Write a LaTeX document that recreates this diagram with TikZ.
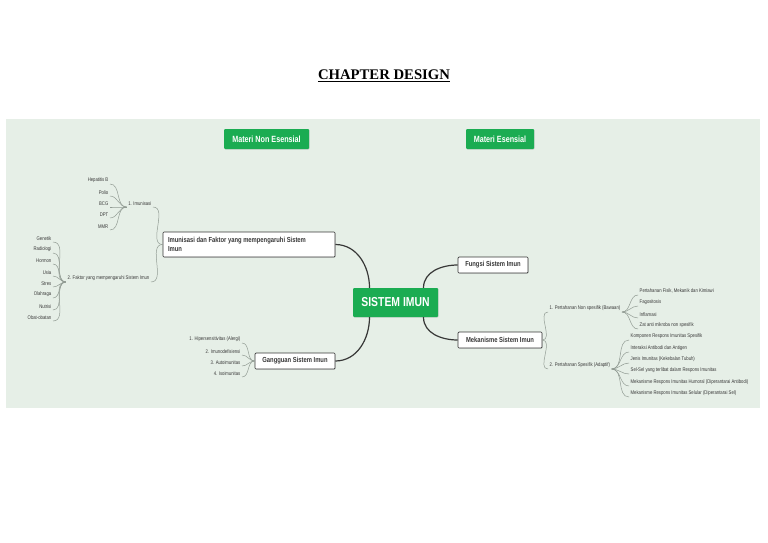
\documentclass[tikz,border=0pt]{standalone}
\usepackage{fontspec}
\setmainfont{Liberation Serif}
\newfontfamily\nar[FakeStretch=0.8]{Liberation Sans}
\usetikzlibrary{shadows}
\definecolor{panel}{RGB}{230,239,231}
\definecolor{xgreen}{RGB}{27,172,82}
\definecolor{lg}{RGB}{145,155,147}
\definecolor{dk}{RGB}{55,55,55}
\begin{document}
\begin{tikzpicture}[x=1pt,y=1pt,
  greenbox/.style={fill=xgreen, text=white, rounded corners=1pt, inner sep=0pt,
    drop shadow={shadow xshift=.6pt,shadow yshift=-.6pt,opacity=.25}},
  topic/.style={draw=dk, fill=white, line width=0.7pt, rounded corners=1pt,
    font=\nar\bfseries\fontsize{7.3}{8.3}\selectfont, text=dk, inner sep=0pt,
    drop shadow={shadow xshift=.6pt,shadow yshift=-.6pt,opacity=.25}},
  leafL/.style={font=\nar\fontsize{5.3}{6.3}\selectfont, text=dk, inner xsep=1.5pt, inner ysep=1.2pt,
    anchor=south east,
    append after command={[draw=lg, line width=0.5pt] (\tikzlastnode.south west) -- (\tikzlastnode.south east)}},
  leafR/.style={font=\nar\fontsize{5.3}{6.3}\selectfont, text=dk, inner xsep=1.5pt, inner ysep=1.2pt,
    anchor=south west,
    append after command={[draw=lg, line width=0.5pt] (\tikzlastnode.south west) -- (\tikzlastnode.south east)}},
  lc/.style={draw=lg, line width=0.5pt},
  mc/.style={draw=dk, line width=1.2pt}
]
\useasboundingbox (0,0) rectangle (768,-543);
\fill[white] (0,0) rectangle (768,-543);
\fill[panel] (6,-119) rectangle (760,-408);

% title
\node[font=\bfseries\fontsize{14.7}{16}\selectfont, inner sep=0pt, anchor=base] (title) at (384,-79) {CHAPTER DESIGN};
\draw[line width=0.9pt] ([yshift=-2.3pt]title.base west) -- ([yshift=-2.3pt]title.base east);

% headers
\node[greenbox, minimum width=85pt, minimum height=20pt, font=\nar\bfseries\fontsize{9}{10}\selectfont] (mne) at (266.5,-139) {Materi Non Esensial};
\node[greenbox, minimum width=68pt, minimum height=20pt, font=\nar\bfseries\fontsize{9}{10}\selectfont] (me) at (500,-139) {Materi Esensial};

% center
\node[greenbox, minimum width=85pt, minimum height=29pt, font=\nar\bfseries\fontsize{13}{14}\selectfont] (c) at (395.5,-302.5) {SISTEM IMUN};
\coordinate (ctl) at ([xshift=-26pt]c.north);
\coordinate (ctr) at ([xshift=28pt]c.north);
\coordinate (cbl) at ([xshift=-26pt]c.south);
\coordinate (cbr) at ([xshift=28pt]c.south);

% main topics
\node[topic, minimum width=172pt, minimum height=25pt, align=left] (imu) at (249,-244.5) {\makebox[162pt][l]{Imunisasi dan Faktor yang mempengaruhi Sistem}\\\makebox[162pt][l]{Imun}};
\node[topic, minimum width=70pt, minimum height=16pt] (fun) at (493,-265) {Fungsi Sistem Imun};
\node[topic, minimum width=84pt, minimum height=16pt] (mek) at (500,-340) {Mekanisme Sistem Imun};
\node[topic, minimum width=80pt, minimum height=16pt] (gan) at (295,-361) {Gangguan Sistem Imun};

\draw[mc] (imu.east) to[out=0,in=90] (ctl);
\draw[mc] (cbl) to[out=270,in=0] (gan.east);
\draw[mc] (ctr) to[out=90,in=180] (fun.west);
\draw[mc] (cbr) to[out=270,in=180] (mek.west);

% left subtopics
\node[leafL] (s1) at (153,-207) {1. Imunisasi};
\node[leafL] (s2) at (151,-282) {2. Faktor yang mempengaruhi Sistem Imun};
\draw[lc] (imu.west) to[out=180,in=0] (s1.south east);
\draw[lc] (imu.west) to[out=180,in=0] (s2.south east);

\node[leafL] (a1) at (110,-184) {Hepatitis B};
\node[leafL] (a2) at (110,-196) {Polio};
\node[leafL] (a3) at (110,-207) {BCG};
\node[leafL] (a4) at (110,-218) {DPT};
\node[leafL] (a5) at (110,-230) {MMR};
\foreach \n in {a1,a2,a3,a4,a5} \draw[lc] (s1.south west) to[out=180,in=0] (\n.south east);

\node[leafL] (b1) at (53,-242) {Genetik};
\node[leafL] (b2) at (53,-253) {Radiologi};
\node[leafL] (b3) at (53,-264) {Hormon};
\node[leafL] (b4) at (53,-276) {Usia};
\node[leafL] (b5) at (53,-287) {Stres};
\node[leafL] (b6) at (53,-298) {Olahraga};
\node[leafL] (b7) at (53,-310) {Nutrisi};
\node[leafL] (b8) at (53,-321) {Obat-obatan};
\foreach \n in {b1,b2,b3,b4,b5,b6,b7,b8} \draw[lc] (s2.south west) to[out=180,in=0] (\n.south east);

\node[leafL] (g1) at (242,-343) {1. Hipersensitivitas (Alergi)};
\node[leafL] (g2) at (242,-355) {2. Imunodefisiensi};
\node[leafL] (g3) at (242,-366) {3. Autoimunitas};
\node[leafL] (g4) at (242,-377) {4. Isoimunitas};
\foreach \n in {g1,g2,g3,g4} \draw[lc] (gan.west) to[out=180,in=0] (\n.south east);

% right subtopics
\node[leafR] (r1) at (548,-312) {1. Pertahanan Non spesifik (Bawaan)};
\node[leafR] (r2) at (548,-369) {2. Pertahanan Spesifik (Adaptif)};
\draw[lc] (mek.east) to[out=0,in=180] (r1.south west);
\draw[lc] (mek.east) to[out=0,in=180] (r2.south west);

\node[leafR] (n1) at (638,-295) {Pertahanan Fisik, Mekanik dan Kimiawi};
\node[leafR] (n2) at (638,-306) {Fagositosis};
\node[leafR] (n3) at (638,-318) {Inflamasi};
\node[leafR] (n4) at (638,-329) {Zat anti mikroba non spesifik};
\foreach \n in {n1,n2,n3,n4} \draw[lc] (r1.south east) to[out=0,in=180] (\n.south west);

\node[leafR] (p1) at (629,-340) {Komponen Respons Imunitas Spesifik};
\node[leafR] (p2) at (629,-352) {Interaksi Antibodi dan Antigen};
\node[leafR] (p3) at (629,-363) {Jenis Imunitas (Kekebalan Tubuh)};
\node[leafR] (p4) at (629,-374) {Sel-Sel yang terlibat dalam Respons Imunitas};
\node[leafR] (p5) at (629,-386) {Mekanisme Respons Imunitas Humoral (Diperantarai Antibodi)};
\node[leafR] (p6) at (629,-397) {Mekanisme Respons Imunitas Selular (Diperantarai Sel)};
\foreach \n in {p1,p2,p3,p4,p5,p6} \draw[lc] (r2.south east) to[out=0,in=180] (\n.south west);
\end{tikzpicture}
\end{document}
